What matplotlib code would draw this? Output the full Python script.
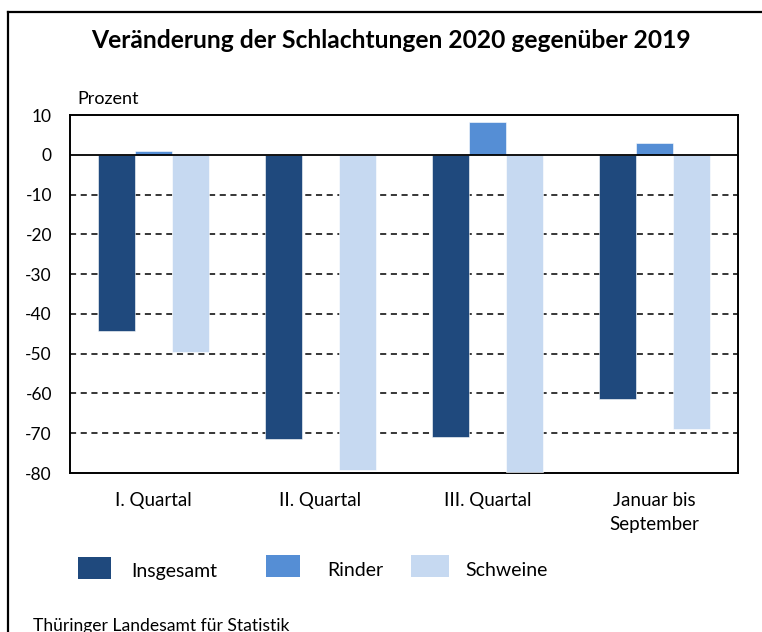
import numpy as np
import matplotlib.pyplot as plt
from matplotlib.lines import Line2D
from matplotlib.patches import Rectangle

plt.rcParams['font.family'] = ['Lato', 'DejaVu Sans']

# Daten: Veränderung der Schlachtungen 2020 gegenüber 2019 in Prozent
categories = ['I. Quartal', 'II. Quartal', 'III. Quartal', 'Januar bis\nSeptember']
insgesamt = [-44.3, -71.5, -71.0, -61.5]
rinder = [0.9, 0.0, 8.2, 2.9]
schweine = [-49.6, -79.3, -79.8, -69.0]
series_names = ['Insgesamt', 'Rinder', 'Schweine']
colors = ['#1F497D', '#558ED5', '#C6D9F1']

W, H = 762, 632
fig = plt.figure(figsize=(W / 100, H / 100), dpi=100)
ax = fig.add_axes([70 / W, 1 - 473 / H, 668 / W, 358 / H])

x = np.arange(len(categories))
width = 0.22
for i, (vals, name, col) in enumerate(zip([insgesamt, rinder, schweine], series_names, colors)):
    ax.bar(x + (i - 1) * width, vals, width, color=col, label=name, zorder=3,
           edgecolor='white', linewidth=0.4)

ax.set_xlim(-0.5, len(categories) - 0.5)
ax.set_ylim(-80, 10)
ax.set_yticks(np.arange(-80, 11, 10))
ax.set_yticklabels([str(v) for v in range(-80, 11, 10)], fontsize=12.5)

# gestrichelte Gitterlinien, durchgezogene Nulllinie
for v in range(-70, 0, 10):
    ax.axhline(v, color='black', linestyle=(0, (4, 3)), linewidth=1.1, zorder=1)
ax.axhline(0, color='black', linewidth=1.3, zorder=4)

ax.set_xticks(x)
ax.set_xticklabels(categories, fontsize=13.5, linespacing=1.45)
ax.tick_params(axis='both', length=0)
ax.tick_params(axis='y', pad=13)
ax.tick_params(axis='x', pad=14)
for s in ax.spines.values():
    s.set_linewidth(1.4)
    s.set_color('black')

fig.text(77 / W, 1 - 99 / H, 'Prozent', fontsize=13, va='center', ha='left')
fig.text(391 / W, 1 - 40 / H, 'Veränderung der Schlachtungen 2020 gegenüber 2019',
         fontsize=17.75, fontweight='bold', ha='center', va='center')
fig.text(33 / W, 1 - 626 / H, 'Thüringer Landesamt für Statistik', fontsize=12.6,
         ha='left', va='center')

# Legende
legend_boxes = [(78, 557, 33, 22), (266, 555, 34, 22), (411, 555, 38, 22)]
legend_text_x = [131, 327, 465]
for (bx, by, bw, bh), tx, name, col in zip(legend_boxes, legend_text_x, series_names, colors):
    fig.add_artist(Rectangle((bx / W, 1 - (by + bh) / H), bw / W, bh / H,
                             facecolor=col, edgecolor='none', transform=fig.transFigure))
    fig.text(tx / W, 1 - 571 / H, name, fontsize=14, ha='left', va='center')

# Rahmen (linke und obere Kante)
fig.add_artist(Line2D([8 / W, 8 / W], [0, 1 - 12 / H], color='black', linewidth=1.6,
                      transform=fig.transFigure))
fig.add_artist(Line2D([8 / W, 1], [1 - 12 / H, 1 - 12 / H], color='black', linewidth=1.6,
                      transform=fig.transFigure))

fig.savefig('out.png', dpi=100)
